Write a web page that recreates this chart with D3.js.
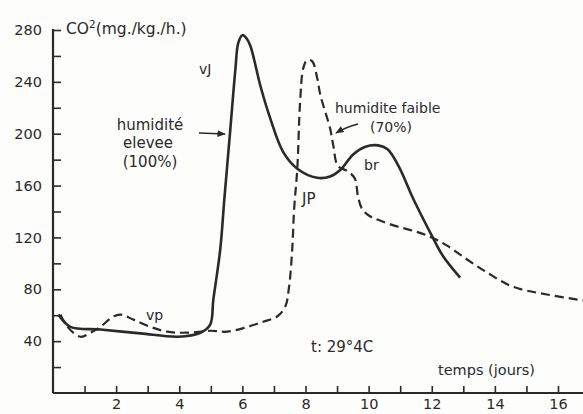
<!DOCTYPE html>
<html>
<head>
<meta charset="utf-8">
<script src="https://cdn.jsdelivr.net/npm/d3@7"></script>
<style>
  body { margin: 0; background: #fdfdfc; }
  svg { display: block; }
  text { font-family: "DejaVu Sans", sans-serif; fill: #2a2a2a; }
</style>
</head>
<body>
<script>
// Valeurs (jours / CO2 mg/kg/h)
const humideJours = [0.17, 0.55, 1.5, 2.77, 3.97, 4.67, 4.98, 5.08, 5.3, 5.43, 5.62, 5.78, 5.87, 6.0, 6.12, 6.25, 6.57, 6.88, 7.29, 7.74, 8.37, 8.78, 9.1, 9.51, 9.9, 10.3, 10.6, 10.95, 11.41, 12.01, 12.36, 12.9]
const humideCO2 = [60.5, 51, 49, 46, 43.4, 46.5, 52.8, 72, 111, 150, 204, 250, 270, 276, 274, 268, 237, 212, 186, 173, 166, 167, 172, 184, 190, 191, 188, 175, 150, 121, 105.5, 89]

const secJours = [0.24, 0.46, 0.87, 1.19, 1.5, 1.91, 2.14, 2.55, 3.09, 3.62, 4.26, 4.98, 5.52, 6.16, 6.66, 7.1, 7.36, 7.48, 7.58, 7.64, 7.74, 7.83, 7.93, 8.05, 8.21, 8.37, 8.47, 8.78, 8.88, 9.03, 9.35, 9.57, 9.66, 9.79, 10.03, 10.36, 10.9, 11.5, 12.0, 12.5, 13.12, 13.75, 14.57, 15.65, 16.9]
const secCO2 = [60.5, 51, 43.4, 46.5, 51, 59, 60.5, 56.6, 51, 47.3, 46.5, 48, 47.3, 51, 55, 59, 66.7, 82, 111, 142, 173, 225, 250.6, 256.8, 256, 243, 230, 204, 191, 175, 171, 165, 152, 142, 136.5, 133, 128.5, 124.5, 120, 113.5, 103, 93, 82, 76, 71]

const yTicks = [20, 40, 60, 80, 100, 120, 140, 160, 180, 200, 220, 240, 260, 280]
const xTicks = [1, 2, 3, 4, 5, 6, 7, 8, 9, 10, 11, 12, 13, 14, 15, 16]

const width = 583, height = 414
const ink = "#2a2a2a"

const svg = d3.select("body").append("svg")
    .attr("width", width)
    .attr("height", height)

// Echelles
const x = d3.scaleLinear().domain([0, 16]).range([53, 558])
const y = d3.scaleLinear().domain([0, 280]).range([393, 30])

// Axe X (graduations vers le haut)
const xAxis = svg.append("g")
    .attr("transform", `translate(0, ${y(0)})`)
    .call(d3.axisBottom(x)
        .tickValues(xTicks)
        .tickSize(-7)
        .tickPadding(6)
        .tickFormat(d => d % 2 ? "" : d))
xAxis.select(".domain").remove()
xAxis.selectAll("line").attr("stroke", ink).attr("stroke-width", 1.6)
xAxis.selectAll("text").attr("font-size", 14.5).style("font-family", "DejaVu Sans")

svg.append("line")
    .attr("x1", x(0)).attr("x2", width)
    .attr("y1", y(0)).attr("y2", y(0))
    .attr("stroke", ink).attr("stroke-width", 2.2)

// Axe Y (graduations vers l'intérieur)
const yAxis = svg.append("g")
    .attr("transform", `translate(${x(0)}, 0)`)
    .call(d3.axisLeft(y)
        .tickValues(yTicks)
        .tickSize(-8)
        .tickPadding(11)
        .tickFormat(d => d % 40 ? "" : d))
yAxis.select(".domain").remove()
yAxis.selectAll("line").attr("stroke", ink).attr("stroke-width", 1.6)
yAxis.selectAll("text").attr("font-size", 14.5).style("font-family", "DejaVu Sans")

svg.append("line")
    .attr("x1", x(0)).attr("x2", x(0))
    .attr("y1", y(0)).attr("y2", y(280) - 1)
    .attr("stroke", ink).attr("stroke-width", 2.2)

// Titre de l'axe Y
const yTitle = svg.append("text")
    .attr("x", 66).attr("y", 34)
    .attr("font-size", 15.5)
yTitle.append("tspan").text("CO")
yTitle.append("tspan").attr("font-size", 10.5).attr("dy", -6).text("2")
yTitle.append("tspan").attr("dy", 6).text("(mg./kg./h.)")

// Courbes
const line = d3.line()
    .x(d => x(d[0]))
    .y(d => y(d[1]))
    .curve(d3.curveCatmullRom.alpha(0.5))

svg.append("path")
    .datum(secJours.map((d, i) => [d, secCO2[i]]))
    .attr("d", line)
    .attr("fill", "none")
    .attr("stroke", ink)
    .attr("stroke-width", 2.2)
    .attr("stroke-dasharray", "9,5")

svg.append("path")
    .datum(humideJours.map((d, i) => [d, humideCO2[i]]))
    .attr("d", line)
    .attr("fill", "none")
    .attr("stroke", ink)
    .attr("stroke-width", 2.6)

// Flèches
svg.append("defs").append("marker")
    .attr("id", "fleche")
    .attr("viewBox", "0 0 10 10")
    .attr("refX", 9).attr("refY", 5)
    .attr("markerWidth", 6).attr("markerHeight", 6)
    .attr("orient", "auto")
    .append("path")
    .attr("d", "M0,1 L10,5 L0,9 z")
    .attr("fill", ink)

svg.append("line")
    .attr("x1", 199).attr("y1", 133)
    .attr("x2", 225).attr("y2", 134)
    .attr("stroke", ink).attr("stroke-width", 1.4)
    .attr("marker-end", "url(#fleche)")

svg.append("path")
    .attr("d", "M358,124 Q346,127 336,133")
    .attr("fill", "none")
    .attr("stroke", ink).attr("stroke-width", 1.4)
    .attr("marker-end", "url(#fleche)")

// Annotations
const annotations = [
    { t: "humidité", x: 150, y: 130, a: "middle", s: 15 },
    { t: "elevee", x: 148, y: 148, a: "middle", s: 15 },
    { t: "(100%)", x: 150, y: 167, a: "middle", s: 15 },
    { t: "humidite faible", x: 335, y: 113, a: "start", s: 14 },
    { t: "(70%)", x: 370, y: 132, a: "start", s: 14 },
    { t: "vJ", x: 199, y: 74, a: "start", s: 14 },
    { t: "br", x: 364, y: 170, a: "start", s: 14 },
    { t: "JP", x: 302, y: 204, a: "start", s: 15 },
    { t: "vp", x: 146, y: 320, a: "start", s: 14 },
    { t: "t: 29°4C", x: 311, y: 352, a: "start", s: 15 },
    { t: "temps (jours)", x: 438, y: 375, a: "start", s: 14.5 }
]

svg.selectAll(".annot")
    .data(annotations)
    .join("text")
    .attr("class", "annot")
    .attr("x", d => d.x)
    .attr("y", d => d.y)
    .attr("text-anchor", d => d.a)
    .attr("font-size", d => d.s)
    .text(d => d.t)
</script>
</body>
</html>
